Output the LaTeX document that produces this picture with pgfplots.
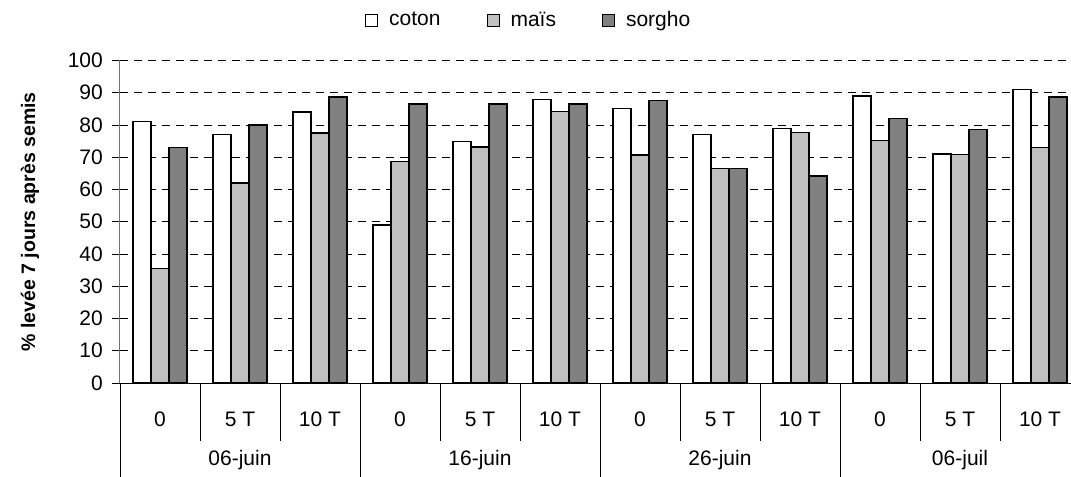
\documentclass[border=0pt]{standalone}
\usepackage{fontspec}
\setmainfont{Liberation Sans}
\usepackage{pgfplots}
\pgfplotsset{compat=1.18}
\definecolor{mais}{HTML}{C0C0C0}
\definecolor{sorgho}{HTML}{808080}
\begin{document}
\fontsize{21bp}{25bp}\selectfont
\begin{tikzpicture}
\useasboundingbox (-120bp,-94bp) rectangle (951bp,383bp);
\begin{axis}[
  scale only axis, width=951bp, height=322.5bp,
  xmin=-0.5, xmax=11.3875, ymin=0, ymax=100,
  axis x line*=bottom, axis y line*=left,
  x axis line style={black, line width=1bp},
  y axis line style={black!55, line width=1bp},
  clip=false,
  ytick={0,10,...,100},
  tick align=outside, major tick length=8bp,
  tick style={black, line width=0.8bp},
  xtick={0,...,11},
  xtick style={draw=none},
  xticklabels={0,5 T,10 T,0,5 T,10 T,0,5 T,10 T,0,5 T,10 T},
  xticklabel style={anchor=center, yshift=-28bp},
  yticklabel style={anchor=east, xshift=-2bp},
  /pgf/number format/assume math mode=true,
  ymajorgrids,
  grid style={black, dash pattern=on 8bp off 6bp, line width=0.8bp},
  ylabel={\fontsize{19.5bp}{22bp}\selectfont\bfseries \% levée 7 jours après semis},
  ylabel style={at={(axis description cs:-0.0946,0.5)}, anchor=center},
  ybar, bar width=0.225,
  legend style={at={(axis description cs:0,1)}, anchor=west, xshift=245bp, yshift=40bp,
    draw=none, fill=none, inner sep=0pt, legend columns=3,
    /tikz/every odd column/.append style={column sep=9bp},
    /tikz/every even column/.append style={column sep=44bp}},
  legend cell align=left,
  legend image code/.code={\draw[#1,line width=1bp] (0bp,-6bp) rectangle (12bp,6bp);},
]
\addplot[fill=white, draw=black, line width=1.2bp, bar shift=-0.225] coordinates {
 (0,81) (1,77) (2,84) (3,49) (4,75) (5,88) (6,85) (7,77) (8,79) (9,89) (10,71) (11,91)};
\addplot[fill=mais, draw=black, line width=1.2bp, bar shift=0] coordinates {
 (0,35.5) (1,62) (2,77.5) (3,68.6) (4,73.2) (5,84.3) (6,70.7) (7,66.4) (8,77.6) (9,75.3) (10,70.8) (11,73)};
\addplot[fill=sorgho, draw=black, line width=1.2bp, bar shift=0.225] coordinates {
 (0,73) (1,80) (2,88.7) (3,86.5) (4,86.5) (5,86.5) (6,87.6) (7,66.4) (8,64.2) (9,82) (10,78.6) (11,88.7)};
\legend{coton, maïs, sorgho}
% separators
\draw[black, line width=0.8bp] (axis cs:0.5,0) -- ++(0bp,-58bp);
\draw[black, line width=0.8bp] (axis cs:1.5,0) -- ++(0bp,-58bp);
\draw[black, line width=0.8bp] (axis cs:3.5,0) -- ++(0bp,-58bp);
\draw[black, line width=0.8bp] (axis cs:4.5,0) -- ++(0bp,-58bp);
\draw[black, line width=0.8bp] (axis cs:6.5,0) -- ++(0bp,-58bp);
\draw[black, line width=0.8bp] (axis cs:7.5,0) -- ++(0bp,-58bp);
\draw[black, line width=0.8bp] (axis cs:9.5,0) -- ++(0bp,-58bp);
\draw[black, line width=0.8bp] (axis cs:10.5,0) -- ++(0bp,-58bp);
\draw[black, line width=0.8bp] (axis cs:-0.5,0) -- ++(0bp,-100bp);
\draw[black, line width=0.8bp] (axis cs:2.5,0) -- ++(0bp,-100bp);
\draw[black, line width=0.8bp] (axis cs:5.5,0) -- ++(0bp,-100bp);
\draw[black, line width=0.8bp] (axis cs:8.5,0) -- ++(0bp,-100bp);
\node[anchor=center] at ([yshift=-77bp]axis cs:1,0) {06-juin};
\node[anchor=center] at ([yshift=-77bp]axis cs:4,0) {16-juin};
\node[anchor=center] at ([yshift=-77bp]axis cs:7,0) {26-juin};
\node[anchor=center] at ([yshift=-77bp]axis cs:10,0) {06-juil};
\end{axis}
\end{tikzpicture}
\end{document}
